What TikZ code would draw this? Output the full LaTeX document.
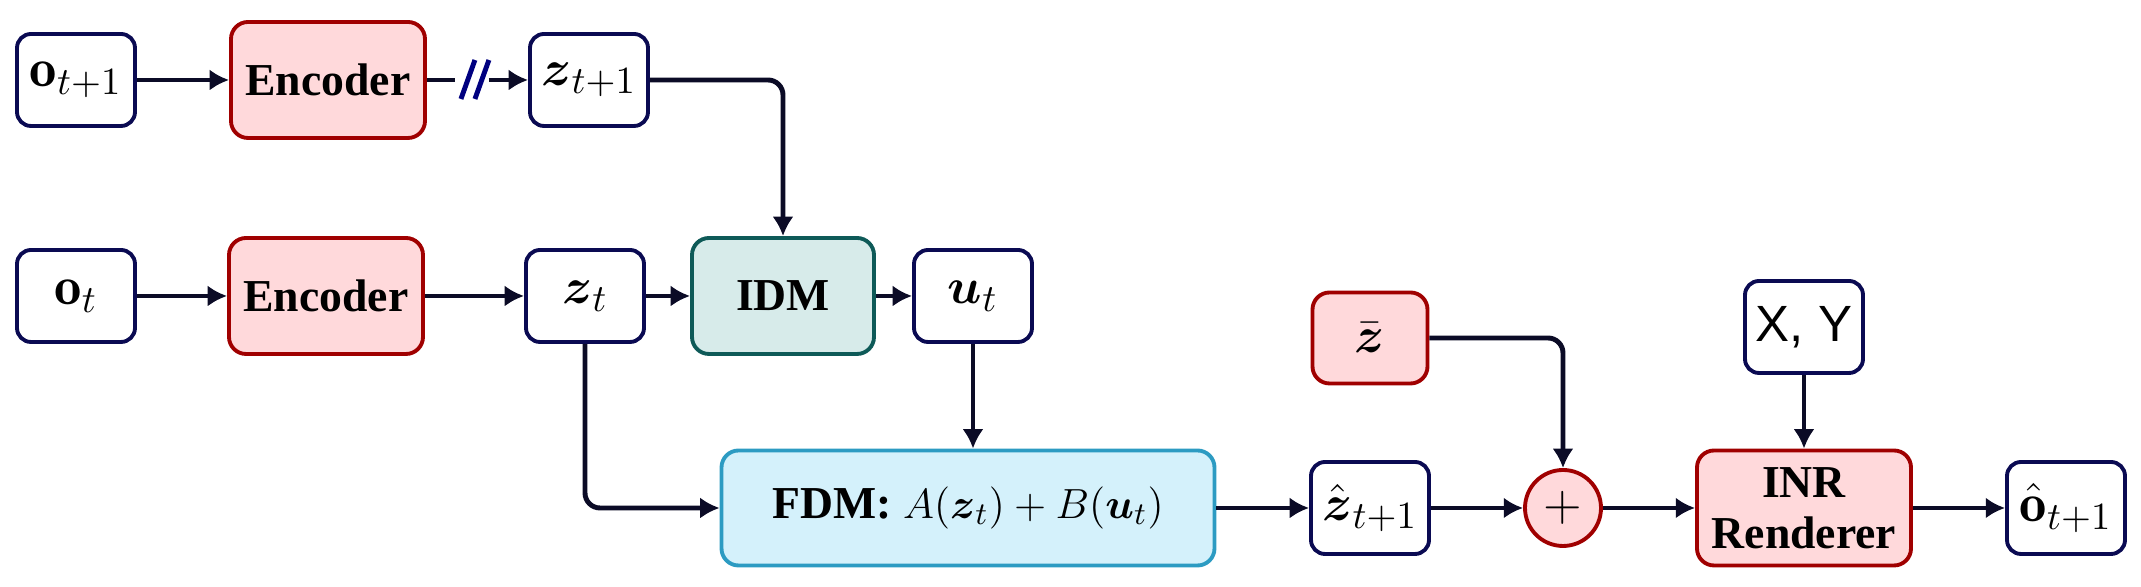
\documentclass[tikz,border=0pt]{standalone}
\usepackage{amsmath, amssymb}
\usepackage{fontspec}
\usetikzlibrary{arrows.meta, positioning}

\newfontfamily\timesfont{Liberation Serif}
\newfontfamily\helvfont{Liberation Sans}

\definecolor{varblue}{HTML}{0A0A52}
\definecolor{wirec}{HTML}{0B0B26}
\definecolor{encred}{HTML}{A00000}
\definecolor{encpink}{HTML}{FFD9DB}
\definecolor{idmteal}{HTML}{0E5A58}
\definecolor{idmfill}{HTML}{D7EBEA}
\definecolor{fdmblue}{HTML}{2C9BC2}
\definecolor{fdmfill}{HTML}{D4F1FB}
\definecolor{cutblue}{HTML}{000080}

\begin{document}
\begin{tikzpicture}[
    font=\fontsize{13}{15}\selectfont,
    var/.style={draw=varblue, fill=white, line width=1.1pt, rounded corners=0.14cm,
        minimum width=1.18cm, minimum height=0.92cm, inner sep=0pt,
        font=\fontsize{15.5}{17}\selectfont},
    block/.style={line width=1.1pt, rounded corners=0.17cm, inner sep=0pt, align=center,
        font=\fontsize{13}{14.5}\selectfont\timesfont\bfseries},
    redblock/.style={block, draw=encred, fill=encpink},
    flow/.style={draw=wirec, line width=1.4pt, rounded corners=0.15cm,
        -{Latex[length=5.5pt, width=6pt]}},
    wire/.style={draw=wirec, line width=1.4pt},
    cut/.style={draw=cutblue, line width=1.4pt}
]
    \useasboundingbox (0,0) rectangle (21.41,5.87);

    % Next frame
    \node[var] (ot1) at (0.76,5.07) {$\mathbf{o}_{t+1}$};
    \node[redblock, minimum width=1.94cm, minimum height=1.16cm] (enc1) at (3.28,5.07) {Encoder};
    \node[var] (zt1) at (5.89,5.07) {$\boldsymbol{z}_{t+1}$};

    % Current frame
    \node[var] (ot) at (0.76,2.91) {$\mathbf{o}_{t}$};
    \node[redblock, minimum width=1.94cm, minimum height=1.16cm] (enc0) at (3.26,2.91) {Encoder};
    \node[var] (zt) at (5.85,2.91) {$\boldsymbol{z}_{t}$};
    \node[block, draw=idmteal, fill=idmfill, minimum width=1.82cm, minimum height=1.16cm] (idm) at (7.83,2.91) {IDM};
    \node[var] (ut) at (9.73,2.91) {$\boldsymbol{u}_{t}$};

    % Forward model and decoding
    \node[block, draw=fdmblue, fill=fdmfill, minimum width=4.93cm, minimum height=1.15cm] (fdm) at (9.68,0.79)
        {FDM: \normalfont\fontsize{13}{15}\selectfont$A(\boldsymbol{z}_t)+B(\boldsymbol{u}_t)$};
    \node[var] (zhat) at (13.70,0.79) {$\hat{\boldsymbol{z}}_{t+1}$};
    \node[redblock, minimum width=1.15cm, minimum height=0.91cm, font=\fontsize{15.5}{17}\selectfont] (zbar) at (13.70,2.49) {$\bar{\boldsymbol{z}}$};
    \node[circle, draw=encred, fill=encpink, line width=1.1pt, minimum size=0.76cm, inner sep=0pt, font=\fontsize{15.5}{17}\selectfont] (plus) at (15.63,0.79) {$+$};
    \node[var, font=\fontsize{14.5}{17}\selectfont\helvfont] (xy) at (18.04,2.60) {X, Y};
    \node[redblock, minimum width=2.14cm, minimum height=1.15cm] (inr) at (18.04,0.79) {INR\\Renderer};
    \node[var] (ohat) at (20.66,0.79) {$\hat{\mathbf{o}}_{t+1}$};

    % Top row, gradient stopped before z_{t+1}
    \draw[flow] (ot1) -- (enc1);
    \draw[wire] (enc1.east) -- ++(0.28,0) coordinate (cutL);
    \draw[cut] (cutL) ++(0.06,-0.19) -- ++(0.14,0.39);
    \draw[cut] (cutL) ++(0.2,-0.19) -- ++(0.14,0.39);
    \draw[flow] (cutL) ++(0.34,0) coordinate (cutR) -- (zt1);
    \draw[flow] (zt1.east) -| (idm.north);

    % Middle row
    \draw[flow] (ot) -- (enc0);
    \draw[flow] (enc0) -- (zt);
    \draw[flow] (zt) -- (idm);
    \draw[flow] (idm) -- (ut);
    \draw[flow] (ut.south) -- (ut.south |- fdm.north);
    \draw[flow] (zt.south) |- (fdm.west);

    % Bottom row
    \draw[flow] (fdm) -- (zhat);
    \draw[flow] (zhat) -- (plus);
    \draw[flow] (zbar.east) -| (plus.north);
    \draw[flow] (plus) -- (inr);
    \draw[flow] (xy) -- (inr);
    \draw[flow] (inr) -- (ohat);
\end{tikzpicture}
\end{document}
